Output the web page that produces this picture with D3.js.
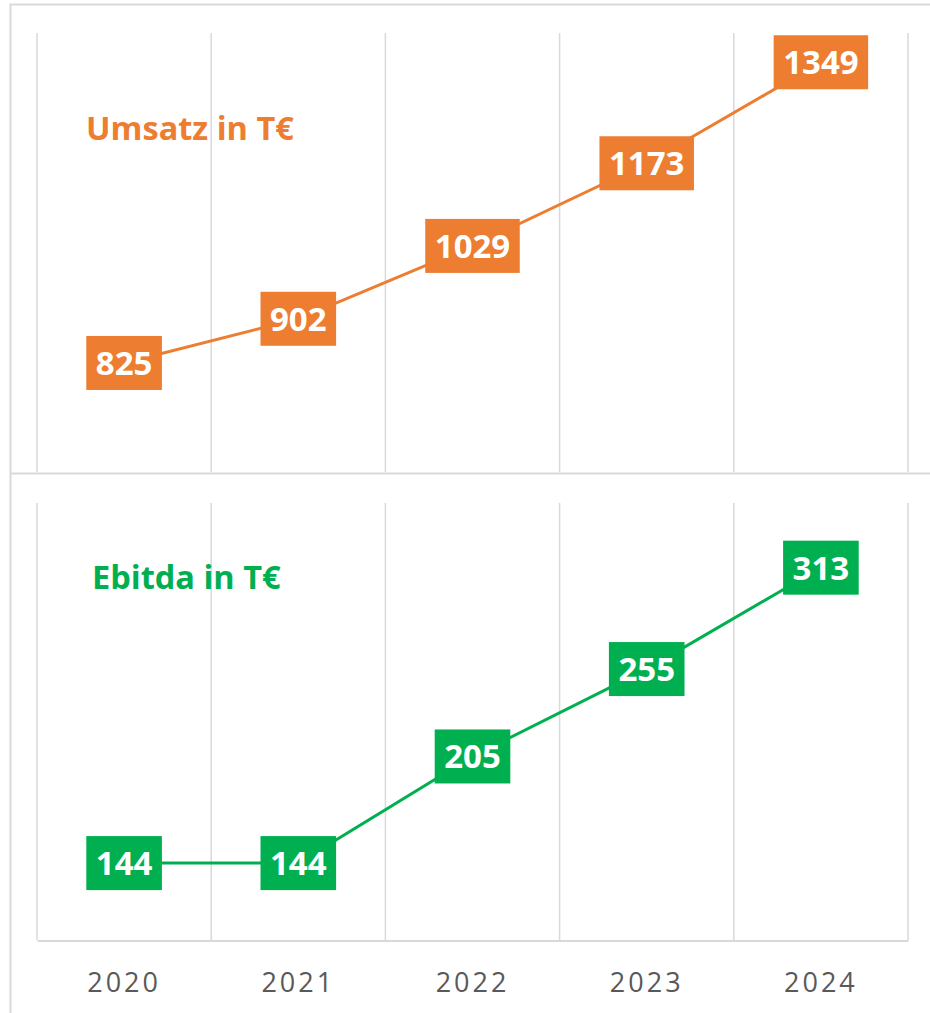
<!DOCTYPE html>
<html>
<head>
<meta charset="utf-8">
<script src="https://cdn.jsdelivr.net/npm/d3@7"></script>
<style>
  body { margin: 0; background: #fff; }
  svg { display: block; font-family: "Open Sans", sans-serif; }
</style>
</head>
<body>
<div id="chart"></div>
<script>
// data
const years = ["2020", "2021", "2022", "2023", "2024"];
const umsatz = [825, 902, 1029, 1173, 1349];
const ebitda = [144, 144, 205, 255, 313];
const titleUmsatz = "Umsatz in T€";
const titleEbitda = "Ebitda in T€";

const orange = "#ED7D31";
const green = "#00B050";
const grid = "#d9d9d9";

const W = 930, H = 1013;

const svg = d3.select("#chart")
    .append("svg")
    .attr("width", W)
    .attr("height", H);

// outer frame
svg.append("path")
    .attr("d", `M10.5,${H} V4.5 H${W}`)
    .attr("fill", "none")
    .attr("stroke", grid)
    .attr("stroke-width", 2);

// divider between the two panels
svg.append("line")
    .attr("x1", 10).attr("x2", W)
    .attr("y1", 473.5).attr("y2", 473.5)
    .attr("stroke", grid)
    .attr("stroke-width", 2);

const x = d3.scaleBand()
    .domain(years)
    .range([37, 908])
    .padding(0);

const xCenter = d => x(d) + x.bandwidth() / 2;

function panel(values, yScale, color, title, titleX, titleY) {
    const g = svg.append("g");
    const [y0, y1] = yScale.range();

    // vertical gridlines at category borders
    const edges = years.map(d => x(d)).concat([x(years[years.length - 1]) + x.bandwidth()]);
    g.selectAll("line.grid")
        .data(edges)
        .enter()
        .append("line")
        .attr("class", "grid")
        .attr("x1", d => d).attr("x2", d => d)
        .attr("y1", y1).attr("y2", y0)
        .attr("stroke", grid)
        .attr("stroke-width", 1.5);

    g.append("text")
        .attr("x", titleX)
        .attr("y", titleY)
        .attr("fill", color)
        .attr("font-size", 32.5)
        .attr("font-weight", 700)
        .text(title);

    const line = d3.line()
        .x((d, i) => xCenter(years[i]))
        .y(d => yScale(d));

    g.append("path")
        .datum(values)
        .attr("d", line)
        .attr("fill", "none")
        .attr("stroke", color)
        .attr("stroke-width", 3);

    const lab = g.selectAll("g.lab")
        .data(values)
        .enter()
        .append("g")
        .attr("class", "lab")
        .attr("transform", (d, i) => `translate(${xCenter(years[i])},${yScale(d)})`);

    lab.append("rect").attr("fill", color);

    const txt = lab.append("text")
        .attr("text-anchor", "middle")
        .attr("dy", "0.36em")
        .attr("fill", "#fff")
        .attr("font-size", 33)
        .attr("font-weight", 700)
        .text(d => d);

    txt.each(function () {
        const w = this.getComputedTextLength() + 19;
        d3.select(this.previousSibling)
            .attr("x", -w / 2)
            .attr("y", -27)
            .attr("width", w)
            .attr("height", 54);
    });
}

const yTop = d3.scaleLinear().domain([635, 1400]).range([472, 33]);
const yBot = d3.scaleLinear().domain([100, 350]).range([940, 503]);

panel(umsatz, yTop, orange, titleUmsatz, 86, 140);
panel(ebitda, yBot, green, titleEbitda, 92, 589);

// bottom axis
const axis = d3.axisBottom(x).tickSize(0).tickPadding(0);
const ax = svg.append("g")
    .attr("transform", "translate(0,940.5)")
    .call(axis);
ax.select(".domain").attr("stroke", grid).attr("stroke-width", 2);
ax.selectAll(".tick text")
    .attr("dy", 0)
    .attr("y", 51)
    .attr("fill", "#595959")
    .attr("font-size", 27)
    .attr("letter-spacing", 3)
    .attr("font-family", "Open Sans, sans-serif");
</script>
</body>
</html>
